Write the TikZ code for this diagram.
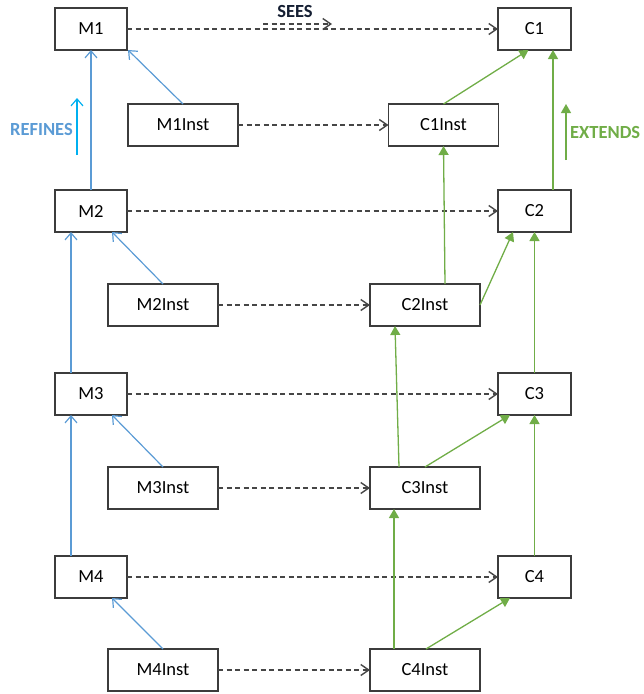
\documentclass[tikz,border=0pt]{standalone}
\usepackage{fontspec}
\setmainfont{Carlito}
\usetikzlibrary{arrows.meta,positioning}
\definecolor{refblue}{RGB}{91,155,213}
\definecolor{legblue}{RGB}{0,176,240}
\definecolor{extgreen}{RGB}{112,173,71}
\definecolor{boxgray}{RGB}{60,60,60}
\definecolor{seesgray}{RGB}{70,70,70}
\definecolor{seestext}{RGB}{20,30,50}

\begin{document}
\begin{tikzpicture}[
    font=\fontsize{18.5}{21}\selectfont,
    mbox/.style={draw=boxgray,line width=1.4pt,inner sep=0pt,outer sep=0pt,minimum width=72pt,minimum height=42pt},
    cbox/.style={mbox,minimum width=73pt},
    ibox/.style={mbox,minimum width=110pt},
    seesline/.style={draw=seesgray,line width=1.4pt,dash pattern=on 5pt off 3.5pt,-{Straight Barb[length=8pt,width=11pt]}},
    refine/.style={draw=refblue,line width=1.2pt,-{Straight Barb[length=7pt,width=12pt]}},
    extend/.style={draw=extgreen,line width=1.3pt,-{Triangle[length=9pt,width=10pt]}},
    legend/.style={font=\fontsize{18.5}{21}\selectfont\bfseries,inner sep=0pt}
  ]
      \useasboundingbox (0,0) rectangle (644pt,-694pt);
      % machines
      \node[mbox] (m1) at (91pt,-29pt) {M1};
      \node[mbox,below=140pt of m1] (m2) {M2};
      \node[mbox,below=141pt of m2] (m3) {M3};
      \node[mbox,below=141pt of m3] (m4) {M4};
      % contexts
      \node[cbox,right=371pt of m1] (c1) {C1};
      \node[cbox,right=371pt of m2] (c2) {C2};
      \node[cbox,right=371pt of m3] (c3) {C3};
      \node[cbox,right=371pt of m4] (c4) {C4};
      % instances
      \node[ibox,below=54pt of m1.south,anchor=north,xshift=92pt] (m1i) {M1Inst};
      \node[ibox,below=52pt of m2.south,anchor=north,xshift=72pt] (m2i) {M2Inst};
      \node[ibox,below=52pt of m3.south,anchor=north,xshift=72pt] (m3i) {M3Inst};
      \node[ibox,below=51pt of m4.south,anchor=north,xshift=72pt] (m4i) {M4Inst};
      \node[ibox,below=54pt of c1.south,anchor=north,xshift=-91pt] (c1i) {C1Inst};
      \node[ibox,below=52pt of c2.south,anchor=north,xshift=-109.5pt] (c2i) {C2Inst};
      \node[ibox,below=52pt of c3.south,anchor=north,xshift=-109.5pt] (c3i) {C3Inst};
      \node[ibox,below=51pt of c4.south,anchor=north,xshift=-109.5pt] (c4i) {C4Inst};
      % legend
      \node[legend,text=seestext] (seeslabel) at (295pt,-11pt) {SEES};
      \coordinate (s0) at (263pt,-24pt);
      \coordinate (s1) at (332pt,-24pt);
      \node[legend,text=refblue,anchor=east] (refines) at (73pt,-129pt) {REFINES};
      \coordinate (r0) at (77pt,-155pt);
      \coordinate (r1) at (77pt,-98pt);
      \node[legend,text=extgreen,anchor=west] (extends) at (570pt,-132pt) {EXTENDS};
      \coordinate (e0) at (566pt,-160pt);
      \coordinate (e1) at (566pt,-104pt);
      \path
        (s0) edge[seesline] (s1)
        (r0) edge[refine,draw=legblue] (r1)
        (e0) edge[extend] (e1)
        (m1) edge[seesline] (c1)
        (m2) edge[seesline] (c2)
        (m3) edge[seesline] (c3)
        (m4) edge[seesline] (c4)
        (m1i) edge[seesline] (c1i)
        (m2i) edge[seesline] (c2i)
        (m3i) edge[seesline] (c3i)
        (m4i) edge[seesline] (c4i)
      ;
      \path
        (m2.north) edge[refine] (m1.south)
        ([xshift=-20pt]m3.north) edge[refine] ([xshift=-20pt]m2.south)
        ([xshift=-20pt]m4.north) edge[refine] ([xshift=-20pt]m3.south)
        (m1i.north) edge[refine] ([xshift=1pt]m1.south east)
        (m2i.north) edge[refine] ([xshift=-15pt]m2.south east)
        (m3i.north) edge[refine] ([xshift=-15pt]m3.south east)
        (m4i.north) edge[refine] ([xshift=-15pt]m4.south east)
      ;
      \path
        ([xshift=18.5pt]c2.north) edge[extend] ([xshift=18.5pt]c1.south)
        (c3.north) edge[extend] (c2.south)
        (c4.north) edge[extend] (c3.south)
        (c1i.north) edge[extend] ([xshift=-6pt]c1.south)
        ([xshift=20pt]c2i.north) edge[extend] (c1i.south)
        (c2i.east) edge[extend] ([xshift=-21.5pt]c2.south)
        ([xshift=-26pt]c3i.north) edge[extend] ([xshift=-30pt]c2i.south)
        (c3i.north) edge[extend] ([xshift=-24.5pt]c3.south)
        ([xshift=-31pt]c4i.north) edge[extend] ([xshift=-31pt]c3i.south)
        ([xshift=1pt]c4i.north) edge[extend] ([xshift=-24.5pt]c4.south)
      ;
    \end{tikzpicture}
\end{document}
